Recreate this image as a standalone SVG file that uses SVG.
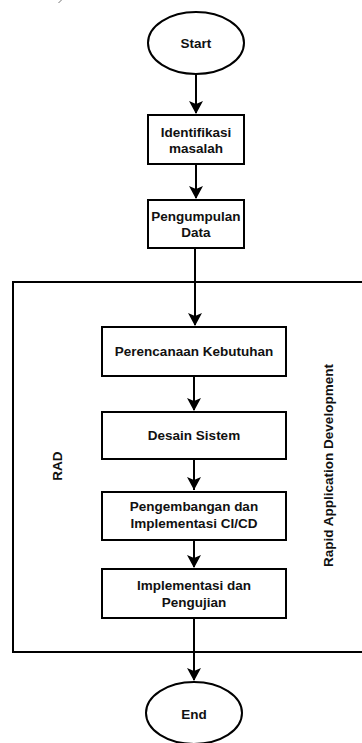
<svg xmlns="http://www.w3.org/2000/svg" width="362" height="743" viewBox="0 0 362 743">
<defs>
<style>
.shape{fill:#ffffff;stroke:#000000;stroke-width:2}
.frame{fill:none;stroke:#000000;stroke-width:2}
.conn{fill:none;stroke:#000000;stroke-width:2}
.lbl{font-family:"Liberation Sans",Arial,sans-serif;font-weight:bold;font-size:13.5px;fill:#111111;text-anchor:middle}
</style>
<marker id="arr" markerUnits="userSpaceOnUse" markerWidth="16" markerHeight="16" viewBox="0 0 16 16" refX="8" refY="14" orient="auto">
<path d="M1,8 L4.5,1 L1,1 Z" fill="none"/>
<path d="M1,1 L8,4 L15,1 L8,14 Z" fill="#000000" transform="rotate(-90 8 8)"/>
</marker>
</defs>
<path d="M58.5,3 L61.5,0" stroke="#777777" stroke-width="1" fill="none"/>
<g id="rad-container">
<rect class="frame" x="13" y="282" width="360" height="370"/>
<text class="lbl" transform="translate(62,466) rotate(-90)">RAD</text>
<text class="lbl" transform="translate(332.5,465.5) rotate(-90)">Rapid Application Development</text>
</g>
<g id="connectors">
<line class="conn" x1="196" y1="74" x2="196" y2="113"/>
<line class="conn" x1="196" y1="164" x2="196" y2="198"/>
<line class="conn" x1="195" y1="248" x2="195" y2="325"/>
<line class="conn" x1="194" y1="376" x2="194" y2="410"/>
<line class="conn" x1="194" y1="459" x2="194" y2="490"/>
<line class="conn" x1="194" y1="540" x2="194" y2="567"/>
<line class="conn" x1="194" y1="618" x2="194" y2="680"/>
<path d="M189,101 L196,104 L203,101 L196,114 Z"/>
<path d="M189,186 L196,189 L203,186 L196,199 Z"/>
<path d="M188,313 L195,316 L202,313 L195,326 Z"/>
<path d="M187,398 L194,401 L201,398 L194,411 Z"/>
<path d="M187,477 L194,480 L201,477 L194,490 Z"/>
<path d="M187,555 L194,558 L201,555 L194,568 Z"/>
<path d="M187,668 L194,671 L201,668 L194,681 Z"/>
</g>
<g id="start">
<ellipse class="shape" cx="196" cy="43" rx="48" ry="31"/>
<text class="lbl" x="196" y="47.5">Start</text>
</g>
<g id="identifikasi">
<rect class="shape" x="148" y="115" width="96" height="49"/>
<text class="lbl" x="196" y="137">Identifikasi</text>
<text class="lbl" x="196" y="153">masalah</text>
</g>
<g id="pengumpulan">
<rect class="shape" x="148" y="200" width="96" height="48"/>
<text class="lbl" x="196" y="220.5">Pengumpulan</text>
<text class="lbl" x="196" y="237">Data</text>
</g>
<g id="perencanaan">
<rect class="shape" x="102" y="327" width="184" height="49"/>
<text class="lbl" x="194" y="355.5">Perencanaan Kebutuhan</text>
</g>
<g id="desain">
<rect class="shape" x="102" y="412" width="184" height="47"/>
<text class="lbl" x="194" y="439.5">Desain Sistem</text>
</g>
<g id="pengembangan">
<rect class="shape" x="102" y="492" width="184" height="48"/>
<text class="lbl" x="194" y="510.5">Pengembangan dan</text>
<text class="lbl" x="194" y="527.5">Implementasi CI/CD</text>
</g>
<g id="implementasi">
<rect class="shape" x="102" y="569" width="184" height="49"/>
<text class="lbl" x="194" y="590">Implementasi dan</text>
<text class="lbl" x="194" y="606.5">Pengujian</text>
</g>
<g id="end">
<ellipse class="shape" cx="194" cy="713" rx="48" ry="31"/>
<text class="lbl" x="194" y="718.5">End</text>
</g>
</svg>
